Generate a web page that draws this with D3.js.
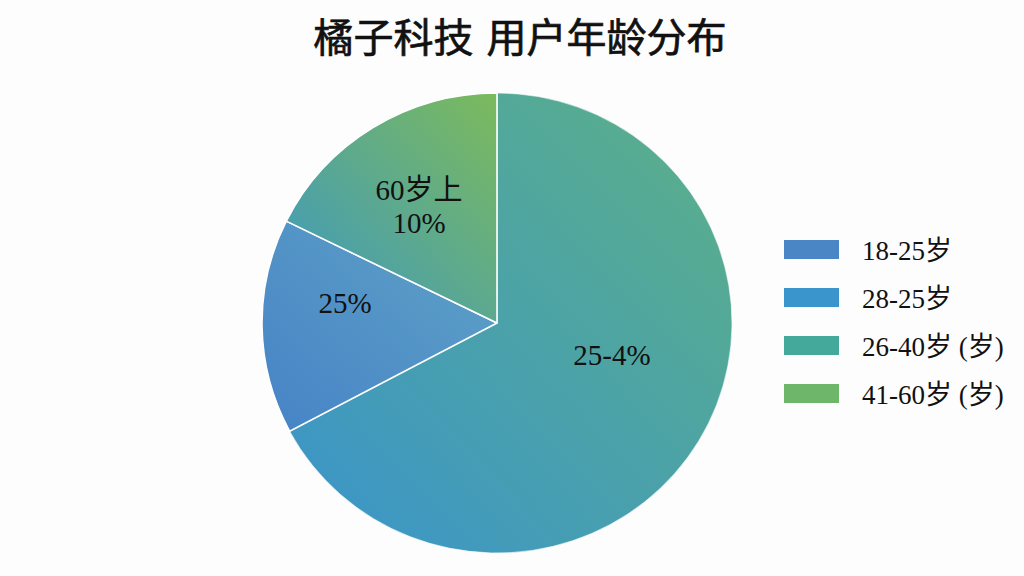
<!DOCTYPE html>
<html>
<head>
<meta charset="utf-8">
<script src="https://cdn.jsdelivr.net/npm/d3@7"></script>
<style>
  body { margin: 0; background: #fdfdfd; }
</style>
</head>
<body>
<div id="chart"></div>
<script>
let w = 1024;
let h = 576;

// slices, clockwise from 12 o'clock
let sliceLabels = ["25-4%", "25%", "60岁上\n10%"];
let sliceValues = [67.2, 15.1, 17.7];

// legend entries
let legendLabels = ["18-25岁", "28-25岁", "26-40岁 (岁)", "41-60岁 (岁)"];
let legendColors = ["#4a86c6", "#3a95cc", "#44a89a", "#6db66a"];

// gradient stops per slice (start = lower left, end = upper right)
let sliceGradients = [
  ["#3a94cb", "#5cb086"],
  ["#4683c6", "#5fa3c6"],
  ["#3c98c2", "#7cba5c"]
];

let svg = d3.select("#chart")
  .append("svg")
  .attr("width", w)
  .attr("height", h)
  .style("background-color", "#fdfdfd");

let defs = svg.append("defs");
sliceGradients.forEach((g, i) => {
  let grad = defs.append("linearGradient")
    .attr("id", "grad" + i)
    .attr("x1", "0%").attr("y1", "100%")
    .attr("x2", "100%").attr("y2", "0%");
  grad.append("stop").attr("offset", "0%").attr("stop-color", g[0]);
  grad.append("stop").attr("offset", "100%").attr("stop-color", g[1]);
});

// title
svg.append("text")
  .attr("x", 520)
  .attr("y", 52)
  .attr("text-anchor", "middle")
  .style("font-family", "'Noto Sans CJK SC', sans-serif")
  .style("font-size", "40px")
  .style("font-weight", 400)
  .style("word-spacing", "4px")
  .attr("fill", "#111")
  .attr("stroke", "#111")
  .attr("stroke-width", 0.7)
  .text("橘子科技 用户年龄分布");

let cx = 497;
let cy = 323;
let radius = 235;

let pie = d3.pie().sort(null).value(d => d);
let arc = d3.arc().innerRadius(0).outerRadius(radius);
let arcs = pie(sliceValues);

let pieGroup = svg.append("g")
  .attr("transform", "translate(" + cx + "," + cy + ") scale(1," + (230 / 235) + ")");

pieGroup.selectAll(".slice")
  .data(arcs)
  .enter()
  .append("path")
  .attr("class", "slice")
  .attr("d", arc)
  .attr("fill", (d, i) => "url(#grad" + i + ")")
  .attr("stroke", "#ffffff")
  .attr("stroke-width", (d, i) => i == 0 ? 0.6 : 1.6)
  .attr("stroke-linejoin", "round");

// slice labels
let labelPos = [
  [115, 42],
  [-152, -10],
  [-78, -123]
];

let labelGroup = svg.append("g")
  .attr("transform", "translate(" + cx + "," + cy + ")");

labelGroup.selectAll(".sliceLabel")
  .data(sliceLabels)
  .enter()
  .append("text")
  .attr("class", "sliceLabel")
  .attr("x", (d, i) => labelPos[i][0])
  .attr("y", (d, i) => labelPos[i][1])
  .attr("text-anchor", "middle")
  .style("font-family", "'Liberation Serif', 'Noto Sans CJK SC', serif")
  .style("font-size", "29px")
  .attr("fill", "#111")
  .each(function (d) {
    let lines = d.split("\n");
    let t = d3.select(this);
    lines.forEach((line, j) => {
      t.append("tspan")
        .attr("x", t.attr("x"))
        .attr("dy", j == 0 ? 0 : 33)
        .text(line);
    });
  });

// legend
let legendGroup = svg.append("g")
  .attr("transform", "translate(784,240)");

let legendItems = legendGroup.selectAll(".legendItem")
  .data(legendLabels)
  .enter()
  .append("g")
  .attr("class", "legendItem")
  .attr("transform", (d, i) => "translate(0," + i * 48 + ")");

legendItems.append("rect")
  .attr("x", 0)
  .attr("y", 0)
  .attr("width", 55)
  .attr("height", 19)
  .attr("fill", (d, i) => legendColors[i]);

legendItems.append("text")
  .attr("x", 78)
  .attr("y", 20)
  .style("font-family", "'Liberation Serif', 'Noto Sans CJK SC', serif")
  .style("font-size", "27px")
  .attr("fill", "#111")
  .text(d => d);
</script>
</body>
</html>
